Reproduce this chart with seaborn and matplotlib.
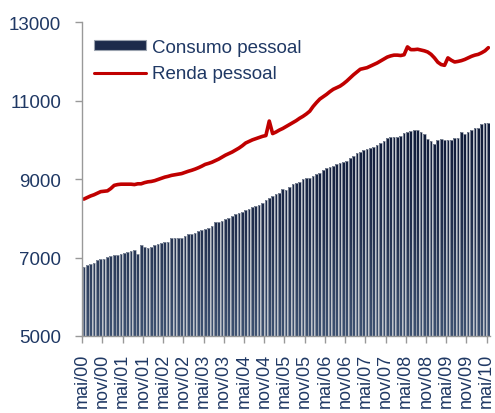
import numpy as np
import pandas as pd
import matplotlib
matplotlib.use('Agg')
import matplotlib.pyplot as plt
import seaborn as sns
from matplotlib.patches import Patch
from matplotlib.lines import Line2D
from matplotlib.path import Path
from matplotlib.colors import LinearSegmentedColormap

# monthly series, mai/00 .. mai/10
consumo = [6760, 6800, 6835, 6850, 6930, 6965, 6975, 7015, 7040, 7065,
           7065, 7090, 7110, 7135, 7160, 7185, 7080, 7320, 7270, 7235,
           7270, 7310, 7355, 7380, 7400, 7400, 7490, 7490, 7490, 7510,
           7550, 7610, 7610, 7620, 7675, 7690, 7735, 7750, 7815, 7905,
           7910, 7930, 7985, 8000, 8050, 8100, 8135, 8160, 8200, 8230,
           8300, 8320, 8350, 8400, 8460, 8530, 8570, 8610, 8655, 8740,
           8720, 8800, 8885, 8900, 8935, 8995, 9020, 9040, 9080, 9140,
           9160, 9220, 9290, 9310, 9340, 9375, 9420, 9445, 9470, 9540,
           9600, 9660, 9700, 9740, 9775, 9800, 9830, 9880, 9920, 9980,
           10050, 10075, 10075, 10080, 10100, 10165, 10200, 10230, 10250, 10250,
           10200, 10140, 10015, 9970, 9885, 9995, 10030, 10000, 10000, 10000,
           10055, 10060, 10200, 10150, 10200, 10250, 10295, 10300, 10395, 10420,
           10420]

renda = [8490, 8530, 8570, 8600, 8640, 8680, 8690, 8700, 8760, 8840,
         8860, 8870, 8870, 8870, 8870, 8860, 8880, 8880, 8910, 8930,
         8940, 8960, 8990, 9020, 9050, 9070, 9095, 9110, 9125, 9140,
         9170, 9200, 9225, 9255, 9290, 9330, 9375, 9400, 9430, 9470,
         9510, 9560, 9610, 9650, 9690, 9740, 9790, 9850, 9920, 9960,
         10000, 10030, 10060, 10090, 10110, 10480, 10160, 10200, 10250, 10290,
         10340, 10390, 10440, 10490, 10550, 10600, 10660, 10730, 10850, 10950,
         11040, 11100, 11160, 11230, 11290, 11330, 11370, 11430, 11500, 11580,
         11660, 11730, 11800, 11820, 11840, 11880, 11920, 11960, 12010, 12060,
         12110, 12140, 12160, 12160, 12150, 12170, 12370, 12300, 12300, 12310,
         12290, 12270, 12240, 12180, 12090, 11980, 11920, 11900, 12090, 12030,
         11985, 12000, 12020, 12050, 12090, 12130, 12160, 12180, 12220, 12270,
         12350]

tick_labels = ['mai/00', 'nov/00', 'mai/01', 'nov/01', 'mai/02', 'nov/02',
               'mai/03', 'nov/03', 'mai/04', 'nov/04', 'mai/05', 'nov/05',
               'mai/06', 'nov/06', 'mai/07', 'nov/07', 'mai/08', 'nov/08',
               'mai/09', 'nov/09', 'mai/10']

y_ticks = [5000, 7000, 9000, 11000, 13000]

navy = '#1f3864'
bar_col = '#1d2b4b'
red = '#c00000'

sns.set_style('white')
plt.rcParams['font.family'] = ['Liberation Sans', 'DejaVu Sans']

df = pd.DataFrame({'mes': range(len(consumo)), 'consumo': consumo, 'renda': renda})

fig = plt.figure(figsize=(4.95, 4.14), dpi=100)
ax = fig.add_axes([0.166, 0.186, 0.824, 0.758])

sns.barplot(data=df, x='mes', y='consumo', color=bar_col, saturation=1,
            width=0.8, edgecolor='#a3aab5', linewidth=0.5, ax=ax)

# vertical gradient inside the bars (dark top, bluish bottom), edges kept on top
ax.set_xlim(-0.5, len(consumo) - 0.5)
ax.set_ylim(5000, 13000)
bars = [p.get_path().transformed(p.get_patch_transform()) for p in ax.patches]
clip = Path.make_compound_path(*bars)
cmap = LinearSegmentedColormap.from_list('bar', ['#3e5272', '#22304f', '#0e1a38'])
grad = np.linspace(0, 1, 256).reshape(-1, 1)
im = ax.imshow(grad, cmap=cmap, origin='lower', aspect='auto',
               extent=[-0.5, len(consumo) - 0.5, 5000, max(consumo)], zorder=2)
im.set_clip_path(clip, ax.transData)
for p in ax.patches:
    p.set_facecolor('none')
    p.set_zorder(2.5)

sns.lineplot(x=df['mes'], y=df['renda'], color=red, linewidth=2.6, ax=ax, zorder=3)

ax.set_xlim(-0.5, len(consumo) - 0.5)
ax.set_ylim(5000, 13000)
ax.set_yticks(y_ticks)
ax.set_yticklabels([str(v) for v in y_ticks], fontsize=13.5, color=navy)
ax.set_xticks([i * 6 - 0.5 for i in range(len(tick_labels))])
ax.set_xticklabels(tick_labels, rotation=90, fontsize=13, color=navy)
ax.set_xlabel('')
ax.set_ylabel('')

for s in ['top', 'right']:
    ax.spines[s].set_visible(False)
for s in ['left', 'bottom']:
    ax.spines[s].set_color('#999999')
    ax.spines[s].set_linewidth(1)
    ax.spines[s].set_zorder(4)
ax.tick_params(axis='y', direction='out', length=5, color='#999999', width=1,
               left=True, pad=10)
ax.tick_params(axis='x', direction='out', length=5, color='#999999', width=1,
               bottom=True, pad=7)

handles = [Patch(facecolor=bar_col, edgecolor='#9aa2ae', linewidth=0.8),
           Line2D([0], [0], color=red, linewidth=2.2)]
leg = ax.legend(handles, ['Consumo pessoal', 'Renda pessoal'], loc='upper left',
                bbox_to_anchor=(0.01, 0.97), frameon=False, fontsize=13.5,
                handlelength=2.8, handleheight=0.45, labelspacing=0.5,
                handletextpad=0.3, borderaxespad=0)
for t in leg.get_texts():
    t.set_color(navy)

fig.savefig('out.png', dpi=100)
